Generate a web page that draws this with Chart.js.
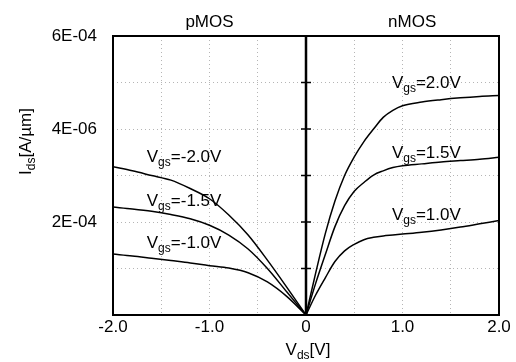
<!DOCTYPE html>
<html>
<head>
<meta charset="utf-8">
<script src="https://cdn.jsdelivr.net/npm/chart.js@4"></script>
<style>
  body { margin: 0; background: #fff; }
</style>
</head>
<body>
<canvas id="ivChart" width="516" height="362"></canvas>
<script>
// I_ds is kept in units of 1E-04 A/um, V_ds in volts
const pVds = [-2.0, -1.8, -1.6, -1.4, -1.2, -1.0, -0.8, -0.6, -0.4, -0.2, 0];
const pIds20 = [3.19, 3.10, 3.00, 2.90, 2.72, 2.50, 2.15, 1.72, 1.18, 0.60, 0];
const pIds15 = [2.32, 2.28, 2.23, 2.16, 2.07, 1.93, 1.72, 1.42, 1.00, 0.50, 0];
const pIds10 = [1.31, 1.27, 1.22, 1.17, 1.12, 1.06, 1.01, 0.91, 0.71, 0.40, 0];

const nVds = [0, 0.1, 0.2, 0.3, 0.4, 0.5, 0.6, 0.7, 0.8, 0.9, 1.0, 1.2, 1.4, 1.6, 1.8, 2.0];
const nIds20 = [0, 0.90, 1.75, 2.45, 3.00, 3.40, 3.73, 4.00, 4.25, 4.40, 4.50, 4.58, 4.63, 4.67, 4.70, 4.72];
const nIds15 = [0, 0.68, 1.30, 1.90, 2.35, 2.66, 2.85, 3.01, 3.10, 3.17, 3.21, 3.25, 3.29, 3.32, 3.35, 3.39];
const nIds10 = [0, 0.43, 0.80, 1.15, 1.38, 1.52, 1.62, 1.67, 1.70, 1.72, 1.74, 1.78, 1.83, 1.89, 1.96, 2.03];

const xTickValues = [-2, -1, 0, 1, 2];
const xTickLabels = ['-2.0', '-1.0', '0', '1.0', '2.0'];
const yTickValues = [2, 4, 6];
const yTickLabels = ['2E-04', '4E-06', '6E-04'];   // printed like this on the original

const curveLabels = ['=-2.0V', '=-1.5V', '=-1.0V', '=2.0V', '=1.5V', '=1.0V'];
const curveLabelX = [-1.65, -1.65, -1.65, 0.89, 0.89, 0.89];
const curveLabelY = [3.29, 2.34, 1.45, 4.88, 3.38, 2.04];

const regionLabels = ['pMOS', 'nMOS'];
const regionLabelX = [-1.0, 1.1];

const FONT = "'Liberation Sans', Arial, sans-serif";

function toPoints(xs, ys) {
    return xs.map((x, i) => ({ x: x, y: ys[i] }));
}

function curve(xs, ys) {
    return {
        data: toPoints(xs, ys),
        showLine: true,
        borderColor: '#000',
        borderWidth: 1.5,
        pointRadius: 0,
        cubicInterpolationMode: 'monotone',
        fill: false
    };
}

// draws  main + subscript + rest  starting at x, baseline y
function drawSubText(ctx, x, y, main, sub, rest) {
    ctx.font = '17px ' + FONT;
    ctx.fillText(main, x, y);
    x += ctx.measureText(main).width;
    ctx.font = '12px ' + FONT;
    ctx.fillText(sub, x, y + 4);
    x += ctx.measureText(sub).width;
    ctx.font = '17px ' + FONT;
    ctx.fillText(rest, x, y);
}

function subTextWidth(ctx, main, sub, rest) {
    ctx.font = '17px ' + FONT;
    let w = ctx.measureText(main).width + ctx.measureText(rest).width;
    ctx.font = '12px ' + FONT;
    return w + ctx.measureText(sub).width;
}

const decorations = {
    id: 'decorations',
    afterDatasetsDraw(chart) {
        const { ctx, chartArea: a, scales: { x, y } } = chart;
        ctx.save();
        ctx.strokeStyle = '#000';

        // frame
        ctx.lineWidth = 2;
        ctx.strokeRect(a.left, a.top, a.right - a.left, a.bottom - a.top);

        // zero axis with its ticks
        const x0 = x.getPixelForValue(0);
        ctx.lineWidth = 2.5;
        ctx.beginPath();
        ctx.moveTo(x0, a.top);
        ctx.lineTo(x0, a.bottom);
        ctx.stroke();
        ctx.lineWidth = 1.5;
        for (let v = 1; v <= 5; v++) {
            const py = y.getPixelForValue(v);
            ctx.beginPath();
            ctx.moveTo(x0 - 5, py);
            ctx.lineTo(x0 + 5, py);
            ctx.stroke();
        }

        ctx.fillStyle = '#000';
        ctx.textBaseline = 'alphabetic';
        ctx.textAlign = 'left';

        // curve labels
        curveLabels.forEach((t, i) => {
            drawSubText(ctx, x.getPixelForValue(curveLabelX[i]), y.getPixelForValue(curveLabelY[i]), 'V', 'gs', t);
        });

        // region headers
        ctx.font = '17px ' + FONT;
        ctx.textAlign = 'center';
        regionLabels.forEach((t, i) => {
            ctx.fillText(t, x.getPixelForValue(regionLabelX[i]), a.top - 9);
        });

        // axis titles
        ctx.textAlign = 'left';
        const wx = subTextWidth(ctx, 'V', 'ds', '[V]');
        drawSubText(ctx, (a.left + a.right) / 2 - wx / 2 + 2, a.bottom + 40, 'V', 'ds', '[V]');

        const wy = subTextWidth(ctx, 'I', 'ds', '[A/\u00b5m]');
        ctx.translate(31, (a.top + a.bottom) / 2 - 34);
        ctx.rotate(-Math.PI / 2);
        drawSubText(ctx, -wy / 2, 0, 'I', 'ds', '[A/\u00b5m]');
        ctx.restore();
    }
};

Chart.defaults.font.family = FONT;
Chart.defaults.font.size = 17;
Chart.defaults.color = '#000';

new Chart(document.getElementById('ivChart'), {
    type: 'scatter',
    data: {
        datasets: [
            curve(pVds, pIds20), curve(pVds, pIds15), curve(pVds, pIds10),
            curve(nVds, nIds20), curve(nVds, nIds15), curve(nVds, nIds10)
        ]
    },
    options: {
        responsive: false,
        devicePixelRatio: 1,
        animation: false,
        layout: { padding: { left: 0, top: 36, right: 17, bottom: 0 } },
        plugins: { legend: { display: false }, tooltip: { enabled: false } },
        scales: {
            x: {
                type: 'linear', min: -2, max: 2,
                afterFit: s => { s.height = 47; },
                grid: { color: '#b5b5b5', lineWidth: 1, drawTicks: false },
                border: { display: false, dash: [1, 3] },
                ticks: {
                    stepSize: 0.5, padding: 2, maxRotation: 0, autoSkip: false,
                    callback: v => {
                        const i = xTickValues.indexOf(v);
                        return i < 0 ? '' : xTickLabels[i];
                    }
                }
            },
            y: {
                type: 'linear', min: 0, max: 6,
                afterFit: s => { s.width = 113; },
                grid: { color: '#b5b5b5', lineWidth: 1, drawTicks: false },
                border: { display: false, dash: [1, 3] },
                ticks: {
                    stepSize: 1, padding: 16, autoSkip: false,
                    callback: v => {
                        const i = yTickValues.indexOf(Math.round(v));
                        return i < 0 ? '' : yTickLabels[i];
                    }
                }
            }
        }
    },
    plugins: [decorations]
});
</script>
</body>
</html>
